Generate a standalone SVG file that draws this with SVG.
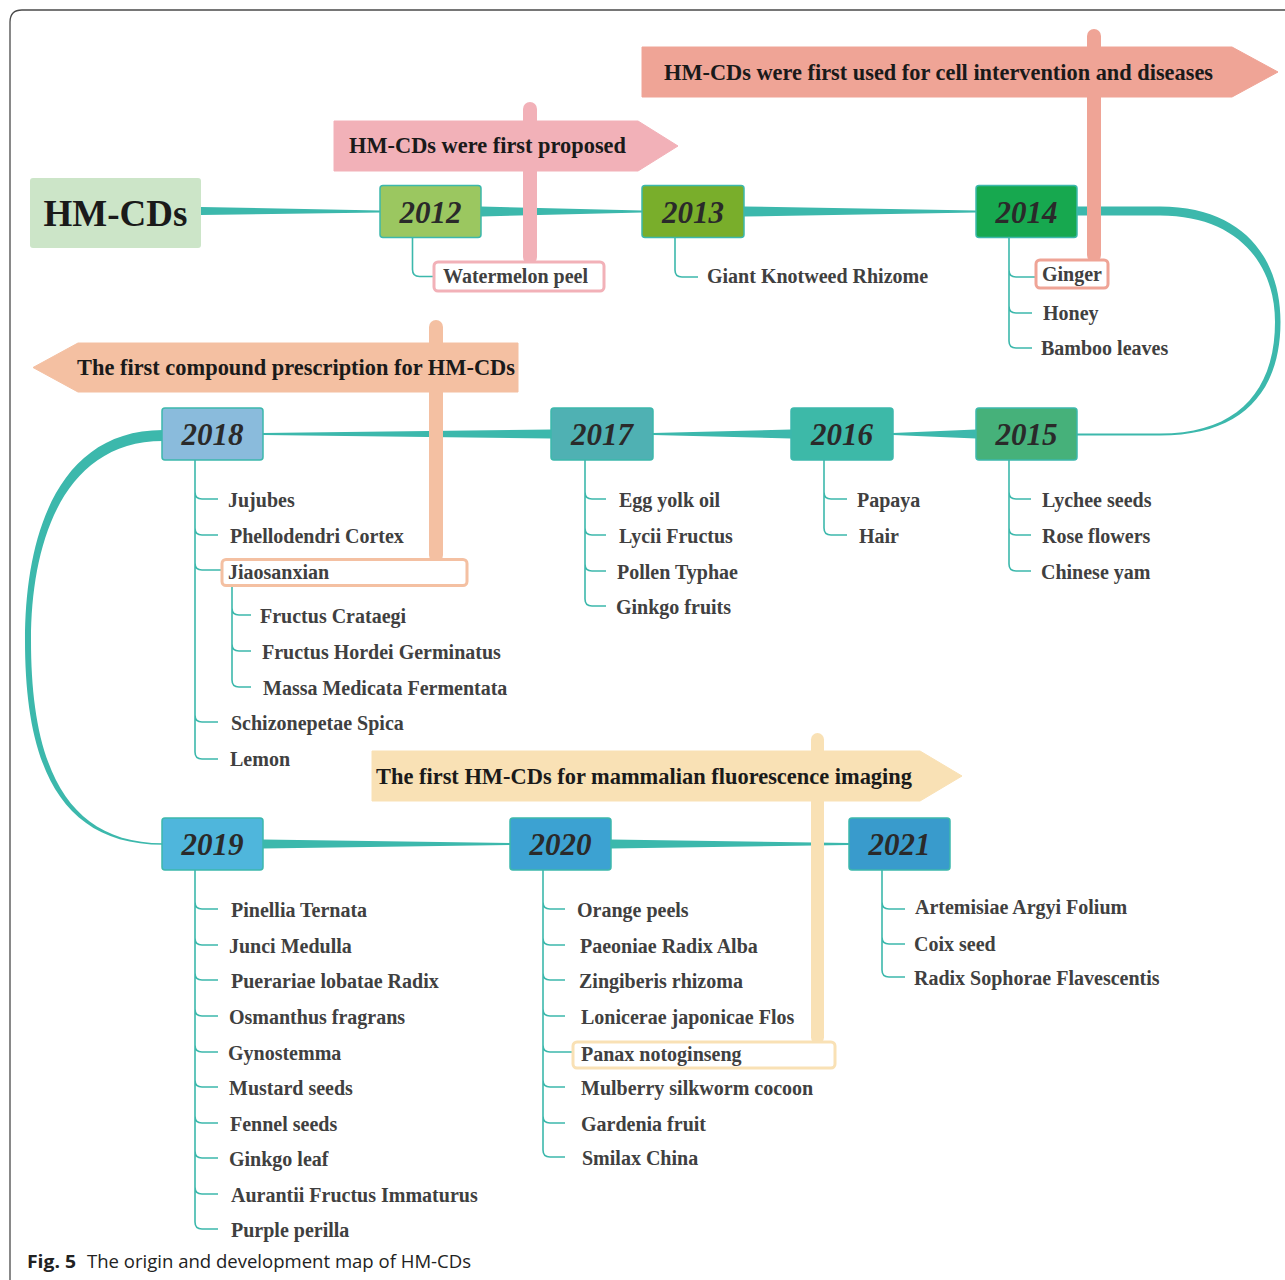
<svg xmlns="http://www.w3.org/2000/svg" width="1285" height="1280" viewBox="0 0 1285 1280">
<style>
.frame{fill:none;stroke:#4a4a4a;stroke-width:1.3}
.tl{fill:#3cb8ac}
.br{fill:none;stroke:#3cb8ac;stroke-width:1.6}
.yb{stroke:#3cb8ac;stroke-width:1.5}
.yt{font-family:"Liberation Serif",serif;font-weight:bold;font-style:italic;font-size:31px;fill:#2a2a2a;text-anchor:middle}
.lb{font-family:"Liberation Serif",serif;font-weight:bold;font-size:20px;fill:#404040}
.bt{font-family:"Liberation Serif",serif;font-weight:bold;font-size:22.5px;fill:#1a1a1a}
.hb{fill:#fff;stroke-width:3}
.cap{font-family:"Open Sans","Noto Sans",sans-serif;font-size:18px;fill:#222}
</style>
<rect width="1285" height="1280" fill="#fff"/>
<path class="frame" d="M10,1280 V22 Q10,10 22,10 H1285"/>

<g id="connectors">
<path class="tl" d="M201,207 L380,210.5 L380,212.5 L201,215 Z"/>
<path class="tl" d="M481,206.5 L642,210.5 L642,212.5 L481,216.5 Z"/>
<path class="tl" d="M744,206.5 L976,210.5 L976,212.5 L744,216.5 Z"/>
<path class="tl" d="M1077,206.5 H1160 C1243,206.5 1280.5,258 1280.5,322 C1280.5,392 1242,435.5 1160,435.5 H1077 V433.5 H1160 C1238,433.5 1275,390 1275,322 C1275,264 1238,215.5 1160,215.5 H1077 Z"/>
<path class="tl" d="M976,429.5 L893,433 L893,435 L976,438.5 Z"/>
<path class="tl" d="M791,429.5 L653,433 L653,435 L791,438.5 Z"/>
<path class="tl" d="M551,429.5 L263,433 L263,435 L551,438.5 Z"/>
<path class="tl" d="M163,430 C57,430 25,537 25,640 C25,762 58,844.8 163,844.8 V843.3 C62,843.3 31,758 31,640 C31,543 63,441 163,441 Z"/>
<path class="tl" d="M263,839.5 L510,843 L510,845 L263,848.5 Z"/>
<path class="tl" d="M611,839.5 L849,843 L849,845 L611,848.5 Z"/>
<path class="br" d="M412.5,237 V269.5 Q412.5,276.5 419.5,276.5 H434"/>
<path class="br" d="M675,237 V270 Q675,277 682,277 H698"/>
<path class="br" d="M1009,237 V341 M1009,270 Q1009,277 1016,277 H1036 M1009,306 Q1009,313 1016,313 H1032 M1009,341 Q1009,348 1016,348 H1032"/>
<path class="br" d="M1009,460 V564 M1009,492 Q1009,499 1016,499 H1031 M1009,528 Q1009,535 1016,535 H1031 M1009,564 Q1009,571 1016,571 H1031"/>
<path class="br" d="M824,460 V528 M824,492 Q824,499 831,499 H847 M824,528 Q824,535 831,535 H847"/>
<path class="br" d="M585,460 V599 M585,492 Q585,499 592,499 H606 M585,528 Q585,535 592,535 H606 M585,564 Q585,571 592,571 H606 M585,599 Q585,606 592,606 H606"/>
<path class="br" d="M195,460 V752 M195,492 Q195,499 202,499 H218 M195,528 Q195,535 202,535 H218 M195,563 Q195,570 202,570 H222 M195,715 Q195,722 202,722 H218 M195,752 Q195,759 202,759 H218"/>
<path class="br" d="M232,586 V680 M232,608 Q232,615 239,615 H251 M232,644 Q232,651 239,651 H251 M232,680 Q232,687 239,687 H251"/>
<path class="br" d="M195,870 V1222 M195,902 Q195,909 202,909 H218 M195,938 Q195,945 202,945 H218 M195,973 Q195,980 202,980 H218 M195,1009 Q195,1016 202,1016 H218 M195,1045 Q195,1052 202,1052 H218 M195,1080 Q195,1087 202,1087 H218 M195,1116 Q195,1123 202,1123 H218 M195,1151 Q195,1158 202,1158 H218 M195,1187 Q195,1194 202,1194 H218 M195,1222 Q195,1229 202,1229 H218"/>
<path class="br" d="M543,870 V1150 M543,902 Q543,909 550,909 H565 M543,938 Q543,945 550,945 H565 M543,973 Q543,980 550,980 H565 M543,1009 Q543,1016 550,1016 H565 M543,1045 Q543,1052 550,1052 H573 M543,1080 Q543,1087 550,1087 H565 M543,1116 Q543,1123 550,1123 H565 M543,1150 Q543,1157 550,1157 H565"/>
<path class="br" d="M882,870 V970 M882,902 Q882,909 889,909 H905 M882,937 Q882,944 889,944 H905 M882,970 Q882,977 889,977 H905"/>
</g>

<g id="banner-proposed">
<path d="M334,121 H638 L678,146 L638,171 H334 Z" fill="#f2b1b8" stroke="#f2b1b8" stroke-linejoin="round"/>
<rect x="523" y="102" width="14" height="162" rx="7" fill="#f2b1b8"/>
<text class="bt" x="349" y="153" textLength="277" lengthAdjust="spacingAndGlyphs">HM-CDs were first proposed</text>
</g>
<g id="banner-cell">
<path d="M642,47 H1232 L1278,72 L1232,97 H642 Z" fill="#efa496" stroke="#efa496" stroke-linejoin="round"/>
<rect x="1087" y="29" width="14" height="233" rx="7" fill="#efa496"/>
<text class="bt" x="664" y="80" textLength="549" lengthAdjust="spacingAndGlyphs">HM-CDs were first used for cell intervention and diseases</text>
</g>
<g id="banner-compound">
<path d="M518,343 V392 H78 L33,367.5 L78,343 Z" fill="#f4c0a2" stroke="#f4c0a2" stroke-linejoin="round"/>
<rect x="429" y="320" width="14" height="242" rx="7" fill="#f4c0a2"/>
<text class="bt" x="77" y="375" textLength="438" lengthAdjust="spacingAndGlyphs">The first compound prescription for HM-CDs</text>
</g>
<g id="banner-imaging">
<path d="M372,751 H920 L962,776 L920,801 H372 Z" fill="#f9e1b5" stroke="#f9e1b5" stroke-linejoin="round"/>
<rect x="811" y="733" width="13" height="311" rx="6.5" fill="#f9e1b5"/>
<text class="bt" x="376" y="783.5" textLength="536" lengthAdjust="spacingAndGlyphs">The first HM-CDs for mammalian fluorescence imaging</text>
</g>

<g id="root">
<rect x="30" y="178" width="171" height="70" rx="3" fill="#cce5c8"/>
<text x="115.5" y="226" font-family="Liberation Serif,serif" font-weight="bold" font-size="37" fill="#1a1a1a" text-anchor="middle">HM-CDs</text>
</g>

<g id="y2012"><rect class="yb" x="380" y="185.5" width="101" height="52" rx="3" fill="#9bc760"/><text class="yt" x="430.5" y="222.5">2012</text></g>
<g id="y2013"><rect class="yb" x="642" y="185.5" width="102" height="52" rx="3" fill="#79ae2b"/><text class="yt" x="693" y="222.5">2013</text></g>
<g id="y2014"><rect class="yb" x="976" y="185.5" width="101" height="52" rx="3" fill="#17a84f"/><text class="yt" x="1026.5" y="222.5">2014</text></g>
<g id="y2015"><rect class="yb" x="976" y="408" width="101" height="52" rx="3" fill="#46b17a"/><text class="yt" x="1026.5" y="445">2015</text></g>
<g id="y2016"><rect class="yb" x="791" y="408" width="102" height="52" rx="3" fill="#3db9a8"/><text class="yt" x="842" y="445">2016</text></g>
<g id="y2017"><rect class="yb" x="551" y="408" width="102" height="52" rx="3" fill="#4fb1b3"/><text class="yt" x="602" y="445">2017</text></g>
<g id="y2018"><rect class="yb" x="162" y="408" width="101" height="52" rx="3" fill="#8abbdc"/><text class="yt" x="212.5" y="445">2018</text></g>
<g id="y2019"><rect class="yb" x="162" y="818" width="101" height="52" rx="3" fill="#4fb6dc"/><text class="yt" x="212.5" y="855">2019</text></g>
<g id="y2020"><rect class="yb" x="510" y="818" width="101" height="52" rx="3" fill="#3ca2d2"/><text class="yt" x="560.5" y="855">2020</text></g>
<g id="y2021"><rect class="yb" x="849" y="818" width="101" height="52" rx="3" fill="#399bcc"/><text class="yt" x="899.5" y="855">2021</text></g>

<g id="h-watermelon"><rect class="hb" x="434" y="262" width="170" height="29" rx="4" stroke="#f2b1b8"/><text class="lb" x="443" y="283">Watermelon peel</text></g>
<g id="h-ginger"><rect class="hb" x="1036" y="260" width="72" height="28" rx="4" stroke="#efa496"/><text class="lb" x="1042" y="281">Ginger</text></g>
<g id="h-jiaosanxian"><rect class="hb" x="222" y="559.5" width="245" height="26" rx="4" stroke="#f4c0a2"/><text class="lb" x="228" y="579">Jiaosanxian</text></g>
<g id="h-panax"><rect class="hb" x="573" y="1042" width="262" height="26" rx="4" stroke="#f9e1b5"/><text class="lb" x="581" y="1061">Panax notoginseng</text></g>

<g id="l2013"><text class="lb" x="707" y="283">Giant Knotweed Rhizome</text></g>
<g id="l2014"><text class="lb" x="1043" y="320">Honey</text><text class="lb" x="1041" y="355">Bamboo leaves</text></g>
<g id="l2015"><text class="lb" x="1042" y="507">Lychee seeds</text><text class="lb" x="1042" y="543">Rose flowers</text><text class="lb" x="1041" y="579">Chinese yam</text></g>
<g id="l2016"><text class="lb" x="857" y="507">Papaya</text><text class="lb" x="859" y="543">Hair</text></g>
<g id="l2017"><text class="lb" x="619" y="507">Egg yolk oil</text><text class="lb" x="619" y="543">Lycii Fructus</text><text class="lb" x="617" y="579">Pollen Typhae</text><text class="lb" x="616" y="614">Ginkgo fruits</text></g>
<g id="l2018"><text class="lb" x="228" y="507">Jujubes</text><text class="lb" x="230" y="543">Phellodendri Cortex</text><text class="lb" x="231" y="730">Schizonepetae Spica</text><text class="lb" x="230" y="766">Lemon</text>
<text class="lb" x="260" y="623">Fructus Crataegi</text><text class="lb" x="262" y="659">Fructus Hordei Germinatus</text><text class="lb" x="263" y="695">Massa Medicata Fermentata</text></g>
<g id="l2019"><text class="lb" x="231" y="917">Pinellia Ternata</text><text class="lb" x="229" y="953">Junci Medulla</text><text class="lb" x="231" y="988">Puerariae lobatae Radix</text><text class="lb" x="229" y="1024">Osmanthus fragrans</text><text class="lb" x="228" y="1060">Gynostemma</text><text class="lb" x="229" y="1095">Mustard seeds</text><text class="lb" x="230" y="1131">Fennel seeds</text><text class="lb" x="229" y="1166">Ginkgo leaf</text><text class="lb" x="231" y="1202">Aurantii Fructus Immaturus</text><text class="lb" x="231" y="1237">Purple perilla</text></g>
<g id="l2020"><text class="lb" x="577" y="917">Orange peels</text><text class="lb" x="580" y="953">Paeoniae Radix Alba</text><text class="lb" x="579" y="988">Zingiberis rhizoma</text><text class="lb" x="581" y="1024">Lonicerae japonicae Flos</text><text class="lb" x="581" y="1095">Mulberry silkworm cocoon</text><text class="lb" x="581" y="1131">Gardenia fruit</text><text class="lb" x="582" y="1165">Smilax China</text></g>
<g id="l2021"><text class="lb" x="915" y="914">Artemisiae Argyi Folium</text><text class="lb" x="914" y="951">Coix seed</text><text class="lb" x="914" y="985">Radix Sophorae Flavescentis</text></g>

<g id="caption">
<text class="cap" x="27" y="1268" font-weight="bold" textLength="49" lengthAdjust="spacingAndGlyphs">Fig. 5</text>
<text class="cap" x="87" y="1268" textLength="384" lengthAdjust="spacingAndGlyphs">The origin and development map of HM-CDs</text>
</g>
</svg>
